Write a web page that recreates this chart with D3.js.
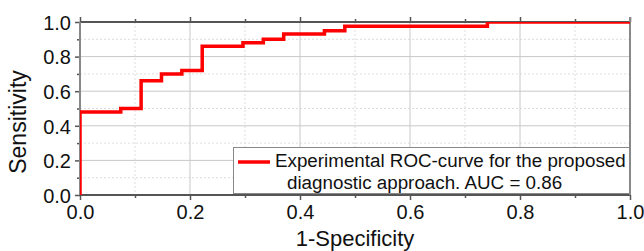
<!DOCTYPE html>
<html><head><meta charset="utf-8">
<script src="https://cdn.jsdelivr.net/npm/d3@7"></script>
<style>body{margin:0;background:#fff}svg{display:block}text{font-family:Arial,"Liberation Sans",sans-serif}</style>
</head><body><svg id="c" width="644" height="251"></svg>
<script>
const fpr = [0, 0, 2/27, 2/27, 3/27, 3/27, 4/27, 4/27, 5/27, 5/27, 6/27, 6/27, 8/27, 8/27, 9/27, 9/27, 10/27, 10/27, 12/27, 12/27, 13/27, 13/27, 20/27, 20/27, 1];
const tpr = [0, 0.48, 0.48, 0.50, 0.50, 0.66, 0.66, 0.70, 0.70, 0.72, 0.72, 0.86, 0.86, 0.88, 0.88, 0.90, 0.90, 0.93, 0.93, 0.95, 0.95, 0.975, 0.975, 1, 1];
const majorTicks = [0, 0.2, 0.4, 0.6, 0.8, 1.0];
const minorTicks = [0.1, 0.3, 0.5, 0.7, 0.9];
const legendLines = ["Experimental ROC-curve for the proposed", "diagnostic approach. AUC = 0.86"];

const svg = d3.select("#c");
const L = 80, R = 630, T = 22, B = 195;
const x = d3.scaleLinear().domain([0, 1]).range([L, R]);
const y = d3.scaleLinear().domain([0, 1]).range([B, T]);

// grid
const g = svg.append("g");
g.selectAll(".mx").data(minorTicks).join("line").attr("x1", d => x(d)).attr("x2", d => x(d)).attr("y1", T).attr("y2", B)
  .attr("stroke", "#ddd").attr("stroke-width", 1).attr("stroke-dasharray", "2,2");
g.selectAll(".my").data(minorTicks).join("line").attr("y1", d => y(d)).attr("y2", d => y(d)).attr("x1", L).attr("x2", R)
  .attr("stroke", "#ddd").attr("stroke-width", 1).attr("stroke-dasharray", "2,2");
g.selectAll(".Mx").data(majorTicks.slice(1, 5)).join("line").attr("x1", d => x(d)).attr("x2", d => x(d)).attr("y1", T).attr("y2", B)
  .attr("stroke", "#c8c8c8").attr("stroke-width", 1);
g.selectAll(".My").data(majorTicks.slice(1, 5)).join("line").attr("y1", d => y(d)).attr("y2", d => y(d)).attr("x1", L).attr("x2", R)
  .attr("stroke", "#c8c8c8").attr("stroke-width", 1);

// axes
const axCol = "#555";
const axBottom = svg.append("g").attr("transform", `translate(0,${B})`)
  .call(d3.axisBottom(x).tickValues(majorTicks).tickFormat(d3.format(".1f")).tickSize(5).tickPadding(5));
const axBottomMinor = svg.append("g").attr("transform", `translate(0,${B})`)
  .call(d3.axisBottom(x).tickValues(minorTicks).tickFormat("").tickSize(3));
const axLeft = svg.append("g").attr("transform", `translate(${L},0)`)
  .call(d3.axisLeft(y).tickValues(majorTicks).tickFormat(d3.format(".1f")).tickSize(5).tickPadding(4));
const axLeftMinor = svg.append("g").attr("transform", `translate(${L},0)`)
  .call(d3.axisLeft(y).tickValues(minorTicks).tickFormat("").tickSize(3));
const axTop = svg.append("g").attr("transform", `translate(0,${T})`)
  .call(d3.axisTop(x).tickValues(majorTicks).tickFormat("").tickSize(5));
const axTopMinor = svg.append("g").attr("transform", `translate(0,${T})`)
  .call(d3.axisTop(x).tickValues(minorTicks).tickFormat("").tickSize(3));
[axBottom, axBottomMinor, axLeft, axLeftMinor, axTop, axTopMinor].forEach(a => {
  a.select(".domain").remove();
  a.selectAll("line").attr("stroke", axCol).attr("stroke-width", 1.5);
  a.selectAll("text").attr("fill", "#111").style("font-size", "20px").style("font-family", "Arial, 'Liberation Sans', sans-serif");
});
axLeft.selectAll("text").attr("dy", "0.36em");
axBottom.selectAll("text").attr("dy", "0.72em");

svg.append("line").attr("x1", L).attr("x2", R).attr("y1", B).attr("y2", B).attr("stroke", axCol).attr("stroke-width", 2);
svg.append("line").attr("x1", L).attr("x2", R).attr("y1", T).attr("y2", T).attr("stroke", axCol).attr("stroke-width", 2);
svg.append("line").attr("x1", L).attr("x2", L).attr("y1", T).attr("y2", B).attr("stroke", "#888").attr("stroke-width", 2);
svg.append("line").attr("x1", R).attr("x2", R).attr("y1", T - 5).attr("y2", B).attr("stroke", "#888").attr("stroke-width", 2);

// curve
svg.append("clipPath").attr("id", "clip").append("rect").attr("x", L).attr("y", T).attr("width", R - L).attr("height", B - T);
const pts = fpr.map((f, i) => [f, tpr[i]]);
svg.append("path").datum(pts).attr("clip-path", "url(#clip)")
  .attr("d", d3.line().x(d => x(d[0])).y(d => y(d[1])))
  .attr("fill", "none").attr("stroke", "#ff0000").attr("stroke-width", 3.5).attr("stroke-linejoin", "miter");

// legend
const lg = svg.append("g");
lg.append("rect").attr("x", 233.5).attr("y", 147.5).attr("width", 396).attr("height", 46)
  .attr("fill", "#fff").attr("stroke", "#888").attr("stroke-width", 1);
lg.append("line").attr("x1", 238).attr("x2", 270).attr("y1", 162).attr("y2", 162).attr("stroke", "#ff0000").attr("stroke-width", 3.5);
lg.selectAll("text").data(legendLines).join("text")
  .attr("x", (d, i) => i === 0 ? 275 : 287).attr("y", (d, i) => i === 0 ? 167 : 189)
  .style("font-size", "18.8px").attr("fill", "#111").text(d => d);

// axis titles
svg.append("text").attr("x", (L + R) / 2).attr("y", 246).attr("text-anchor", "middle").style("font-size", "22px").attr("fill", "#111").text("1-Specificity");
svg.append("text").attr("transform", `translate(26,122) rotate(-90)`).attr("text-anchor", "middle").style("font-size", "23px").attr("fill", "#111").text("Sensitivity");
</script></body></html>
